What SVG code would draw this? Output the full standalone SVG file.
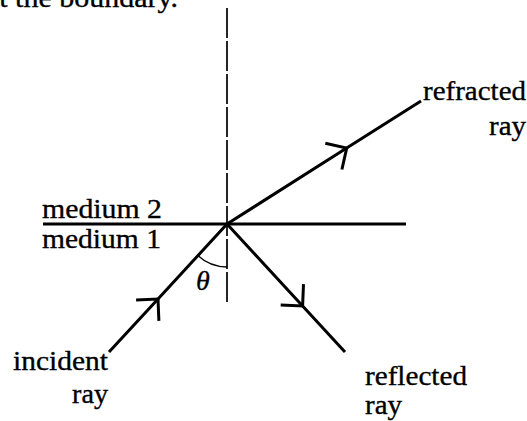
<svg xmlns="http://www.w3.org/2000/svg" width="527" height="421" viewBox="0 0 527 421">
<style>
  .lbl { font-family: "Times New Roman", "Liberation Serif", Tinos, serif; font-size: 28px; fill: #000; stroke: #000; stroke-width: 0.35; }
  .ray { stroke: #000; stroke-width: 3; fill: none; marker-mid: url(#chev); }
  .boundary { stroke: #000; stroke-width: 3; fill: none; }
  .normal { stroke: #000; stroke-width: 1.7; fill: none; stroke-dasharray: 30 3; }
  .angle { stroke: #000; stroke-width: 1.3; fill: none; }
</style>
<defs>
  <marker id="chev" markerUnits="userSpaceOnUse" orient="auto" refX="0" refY="0" viewBox="-20 -20 40 40" markerWidth="40" markerHeight="40" overflow="visible">
    <path d="M-15.5,-15.5 L0,0 L-15.5,15.5" stroke="#000" stroke-width="3" fill="none" stroke-linecap="butt"/>
  </marker>
</defs>
<rect width="527" height="421" fill="#fff"/>
<text class="lbl" x="-14" y="7" textLength="192" lengthAdjust="spacingAndGlyphs">at the boundary.</text>
<g id="connectors">
  <line class="normal" x1="227" y1="8" x2="227" y2="303"/>
  <line class="boundary" x1="43" y1="224" x2="406" y2="224"/>
  <polyline id="incident-ray" class="ray" points="109,352 158,299 227,224"/>
  <polyline id="refracted-ray" class="ray" points="227,224 346.7,148.1 421,101"/>
  <polyline id="reflected-ray" class="ray" points="227,224 302.6,306 345,352"/>
  <path class="angle" d="M197.8,255.6 A43,43 0 0 0 227,267"/>
</g>
<g id="medium2"><text class="lbl" x="42" y="218" textLength="120" lengthAdjust="spacingAndGlyphs">medium 2</text></g>
<g id="medium1"><text class="lbl" x="42" y="248" textLength="119" lengthAdjust="spacingAndGlyphs">medium 1</text></g>
<g id="theta"><text class="lbl" x="196" y="290" font-style="italic">θ</text></g>
<g id="refracted"><text class="lbl" x="423" y="100" textLength="103" lengthAdjust="spacingAndGlyphs">refracted</text><text class="lbl" x="489" y="135" textLength="37" lengthAdjust="spacingAndGlyphs">ray</text></g>
<g id="incident"><text class="lbl" x="13" y="370" textLength="95" lengthAdjust="spacingAndGlyphs">incident</text><text class="lbl" x="72" y="403" textLength="36" lengthAdjust="spacingAndGlyphs">ray</text></g>
<g id="reflected"><text class="lbl" x="365" y="385" textLength="102" lengthAdjust="spacingAndGlyphs">reflected</text><text class="lbl" x="365" y="414" textLength="37" lengthAdjust="spacingAndGlyphs">ray</text></g>
</svg>
